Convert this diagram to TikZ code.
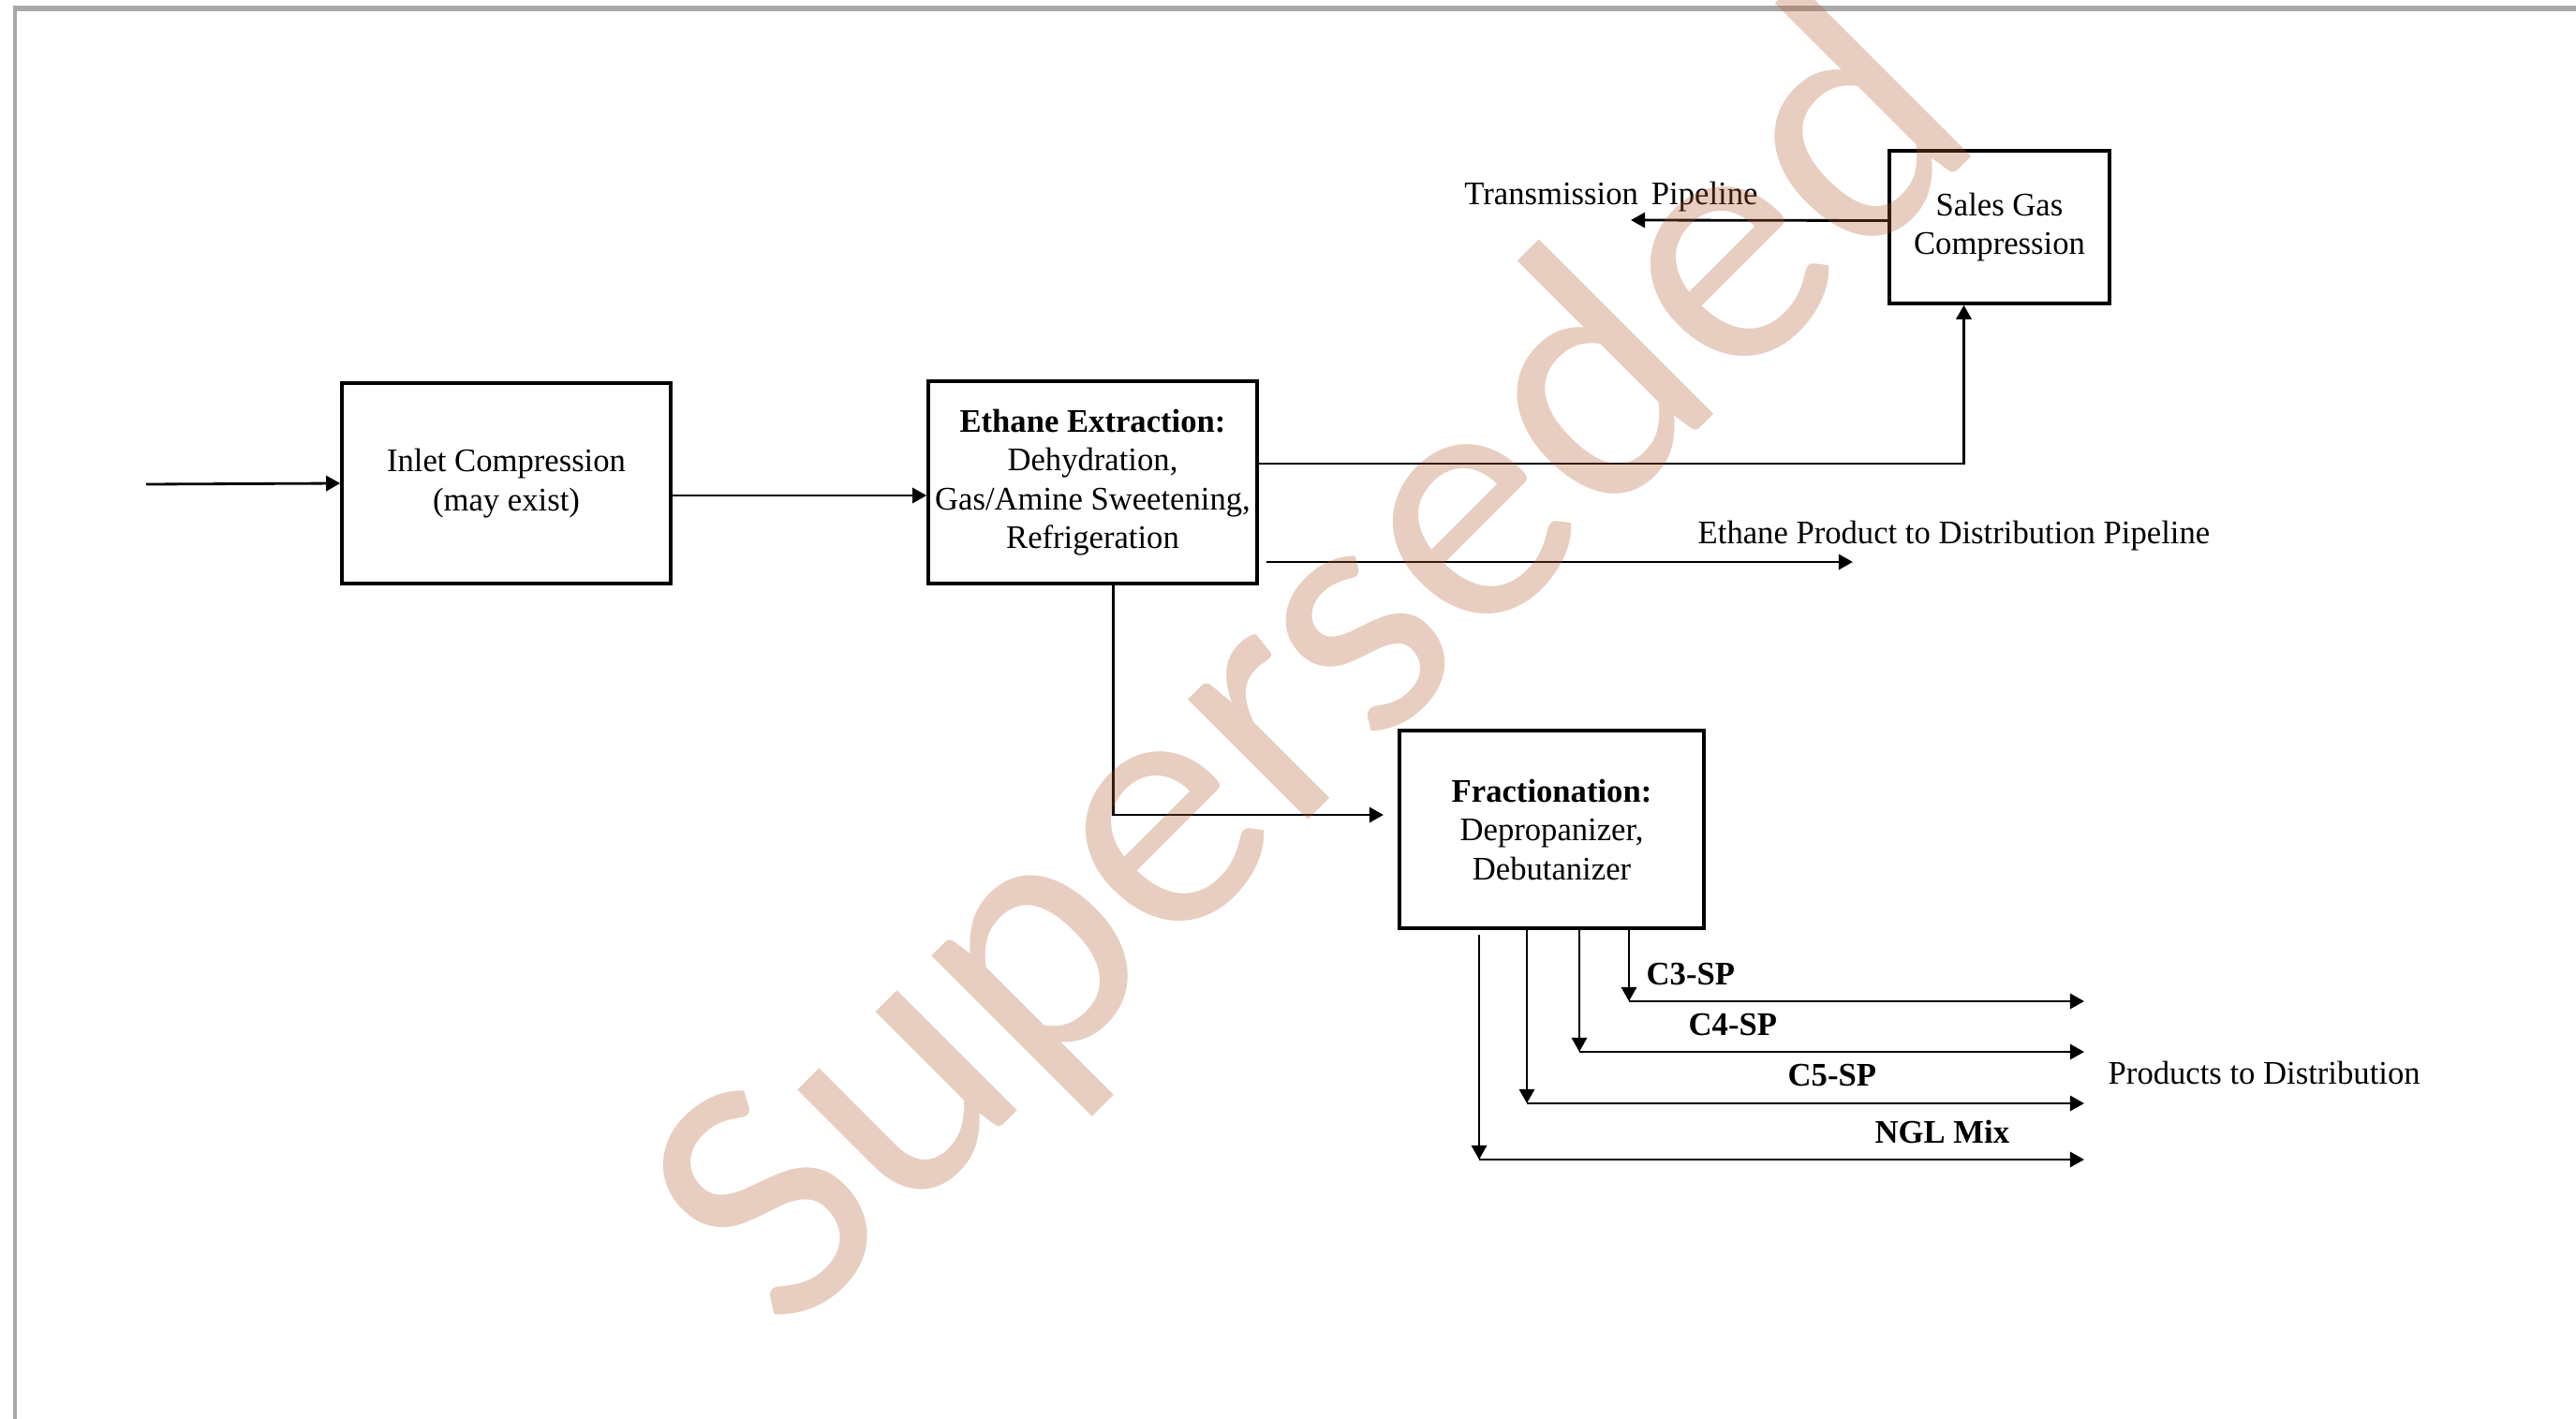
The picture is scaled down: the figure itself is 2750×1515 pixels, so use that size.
\documentclass[tikz,border=0pt]{standalone}
\usepackage{fontspec}
\setmainfont{Liberation Serif}[FakeStretch=0.985]
\newfontfamily\wmfont{Carlito}
\usetikzlibrary{arrows.meta,calc}
\definecolor{wmc}{RGB}{178,92,48}
\definecolor{framegray}{RGB}{168,168,168}
\begin{document}
\begin{tikzpicture}[x=0.01cm,y=-0.01cm,
  box/.style={draw, line width=0.95pt, inner sep=0pt, align=center, font=\fontsize{10pt}{11.8pt}\selectfont},
  flow/.style={line width=0.8pt, -{Triangle[length=4.3pt,width=4.6pt]}},
  lab/.style={inner sep=0pt, font=\fontsize{10pt}{11.8pt}\selectfont},
  blab/.style={inner sep=0pt, font=\fontsize{10pt}{11.8pt}\selectfont\bfseries}]
\path[use as bounding box] (0,0) rectangle (2750,1515);
% page frame
\draw[framegray, line width=0.05cm] (14,9) -- (2750,9);
\draw[framegray, line width=0.03cm] (16,9) -- (16,1515);

% boxes
\node[box, minimum width=3.51cm, minimum height=2.14cm] (inlet) at (540.5,516) {\raisebox{-3pt}{\shortstack{Inlet Compression\\(may exist)}}};
\node[box, minimum width=3.51cm, minimum height=2.16cm] (ethane) at (1166.5,515) {\textbf{Ethane Extraction:}\\Dehydration,\\Gas/Amine Sweetening,\\Refrigeration};
\node[box, minimum width=2.35cm, minimum height=1.63cm] (sales) at (2134.5,242.5) {Sales Gas\\Compression};
\node[box, minimum width=3.25cm, minimum height=2.11cm] (frac) at (1656.5,885.5) {\textbf{Fractionation:}\\Depropanizer,\\Debutanizer};

% connectors
\coordinate (src) at (156,517);
\draw[flow] (src) -- (inlet.west);
\draw[flow] ($(inlet.east)+(0,13)$) -- ($(ethane.west)+(0,14)$);
\draw[flow] ($(ethane.east)+(0,-20)$) -| ($(sales.south)+(-38,0)$);
\coordinate (ethEnd) at (1978,600);
\draw[flow] ($(ethane.east)+(8,85)$) -- (ethEnd);
\coordinate (fracIn) at (1477,870);
\draw[flow] ($(ethane.south)+(22,0)$) |- (fracIn);
\coordinate (transEnd) at (1741,235);
\draw[flow] ($(sales.west)+(0,-7)$) -- (transEnd);

% fractionation products
\coordinate (c3) at (1739,1069); \coordinate (c3e) at (2225,1069);
\coordinate (c4) at (1686,1123); \coordinate (c4e) at (2225,1123);
\coordinate (c5) at (1630,1178); \coordinate (c5e) at (2225,1178);
\coordinate (ngl) at (1579,1238); \coordinate (ngle) at (2225,1238);
\draw[flow] (frac.south -| c3) -- (c3);
\draw[flow] (c3) -- (c3e);
\draw[flow] (frac.south -| c4) -- (c4);
\draw[flow] (c4) -- (c4e);
\draw[flow] (frac.south -| c5) -- (c5);
\draw[flow] (c5) -- (c5e);
\draw[flow] ($(frac.south -| ngl)+(0,5)$) -- (ngl);
\draw[flow] (ngl) -- (ngle);

% labels
\node[lab, anchor=base] (ltrans) at (1720,218) {Transmission\hspace{4pt}Pipeline};
\node[lab, anchor=base west] (leth) at (1812,580) {Ethane Product to Distribution Pipeline};
\node[lab, anchor=base west] (lprod) at (2250,1157) {Products to Distribution};
\node[blab, anchor=base west] (lc3) at (1757,1051) {C3-SP};
\node[blab, anchor=base west] (lc4) at (1802,1105) {C4-SP};
\node[blab, anchor=base west] (lc5) at (1908,1159) {C5-SP};
\node[blab, anchor=base west] (lngl) at (2001,1220) {NGL Mix};

% watermark
\node[rotate=45, anchor=base, inner sep=0pt, text=wmc, text opacity=0.3, font=\wmfont\fontsize{108pt}{108pt}\selectfont] (wm) at (1482,790) {Superseded};
\end{tikzpicture}
\end{document}
